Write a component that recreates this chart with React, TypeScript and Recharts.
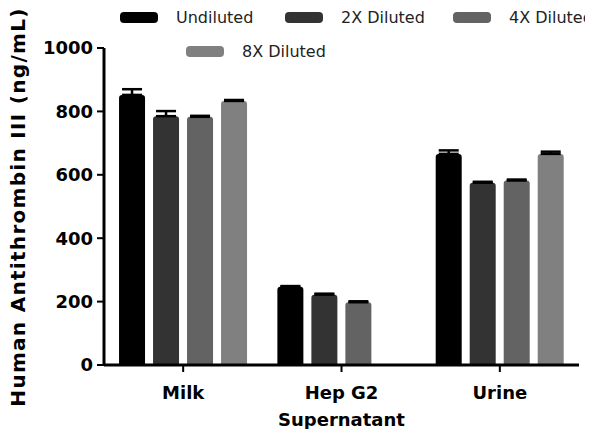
import { BarChart, Bar, XAxis, YAxis, ErrorBar } from "recharts";

const categories = ["Milk", "Hep G2\nSupernatant", "Urine"];
const seriesNames = ["Undiluted", "2X Diluted", "4X Diluted", "8X Diluted"];
const undiluted = [852, 247, 666];
const undilutedErr = [18, 2, 11];
const diluted2x = [785, 222, 575];
const diluted2xErr = [16, 3, 3];
const diluted4x = [783, 198, 582];
const diluted4xErr = [3, 3, 3];
const diluted8x: (number | null)[] = [833, null, 666];
const diluted8xErr: (number | null)[] = [3, null, 7];
const yTicks = [0, 200, 400, 600, 800, 1000];

const colors = ["#000000", "#333333", "#636363", "#808080"];

const data = categories.map((name, i) => ({
  name,
  s0: undiluted[i],
  e0: [0, undilutedErr[i]],
  s1: diluted2x[i],
  e1: [0, diluted2xErr[i]],
  s2: diluted4x[i],
  e2: [0, diluted4xErr[i]],
  s3: diluted8x[i],
  e3: diluted8xErr[i] == null ? null : [0, diluted8xErr[i]],
}));

const FONT = "'DejaVu Sans', sans-serif";

const CategoryTick = ({ x, y, payload }: any) => {
  const lines = String(payload.value).split("\n");
  return (
    <text x={x} y={y} textAnchor="middle" fontFamily={FONT} fontWeight="bold" fontSize={18} fill="#000">
      {lines.map((l, i) => (
        <tspan key={i} x={x} dy={i === 0 ? 25 : 27}>
          {l}
        </tspan>
      ))}
    </text>
  );
};

const YLabel = () => (
  <text
    x={18}
    y={207}
    transform="rotate(-90 18 207)"
    textAnchor="middle"
    dominantBaseline="central"
    fontFamily={FONT}
    fontWeight="bold"
    fontSize={20}
    letterSpacing={1.3}
    fill="#000"
  >
    Human Antithrombin III (ng/mL)
  </text>
);

// legend item positions (px)
const legendPos = [
  { left: 120, top: 12 },
  { left: 285, top: 12 },
  { left: 453, top: 12 },
  { left: 186, top: 46 },
];

const App = () => {
  return (
    <div style={{ position: "relative", width: 593, height: 437, margin: -8, background: "#fff" }}>
      {seriesNames.map((n, i) => (
        <div
          key={n}
          style={{
            position: "absolute",
            left: legendPos[i].left,
            top: legendPos[i].top,
            display: "flex",
            alignItems: "center",
            height: 11,
          }}
        >
          <div style={{ width: 38, height: 11, borderRadius: 4, background: colors[i] }} />
          <span
            style={{
              marginLeft: 18,
              fontFamily: FONT,
              fontSize: 16,
              color: "#222",
              whiteSpace: "nowrap",
              lineHeight: "11px",
            }}
          >
            {n}
          </span>
        </div>
      ))}
      <BarChart
        width={593}
        height={437}
        data={data}
        margin={{ top: 48, right: 14, bottom: 0, left: 0 }}
        barCategoryGap="9.5%"
        barGap={8}
        style={{ position: "absolute", left: 0, top: 0 }}
      >
        <XAxis
          dataKey="name"
          axisLine={{ stroke: "#000", strokeWidth: 3 }}
          tickLine={{ stroke: "#000", strokeWidth: 2 }}
          tickSize={7}
          tickMargin={2}
          tick={<CategoryTick />}
          interval={0}
          height={72}
        />
        <YAxis
          width={104}
          domain={[0, 1000]}
          ticks={yTicks}
          axisLine={{ stroke: "#000", strokeWidth: 3 }}
          tickLine={{ stroke: "#000", strokeWidth: 2 }}
          tickSize={7}
          tickMargin={4}
          tick={{ fill: "#000", fontFamily: FONT, fontWeight: "bold", fontSize: 18 }}
          label={<YLabel />}
        />
        {["s0", "s1", "s2", "s3"].map((k, i) => (
          <Bar key={k} dataKey={k} fill={colors[i]} radius={[3, 3, 0, 0]} isAnimationActive={false}>
            <ErrorBar dataKey={`e${i}`} width={10} stroke="#000" strokeWidth={2.5} direction="y" />
          </Bar>
        ))}
      </BarChart>
    </div>
  );
};

export default App;
